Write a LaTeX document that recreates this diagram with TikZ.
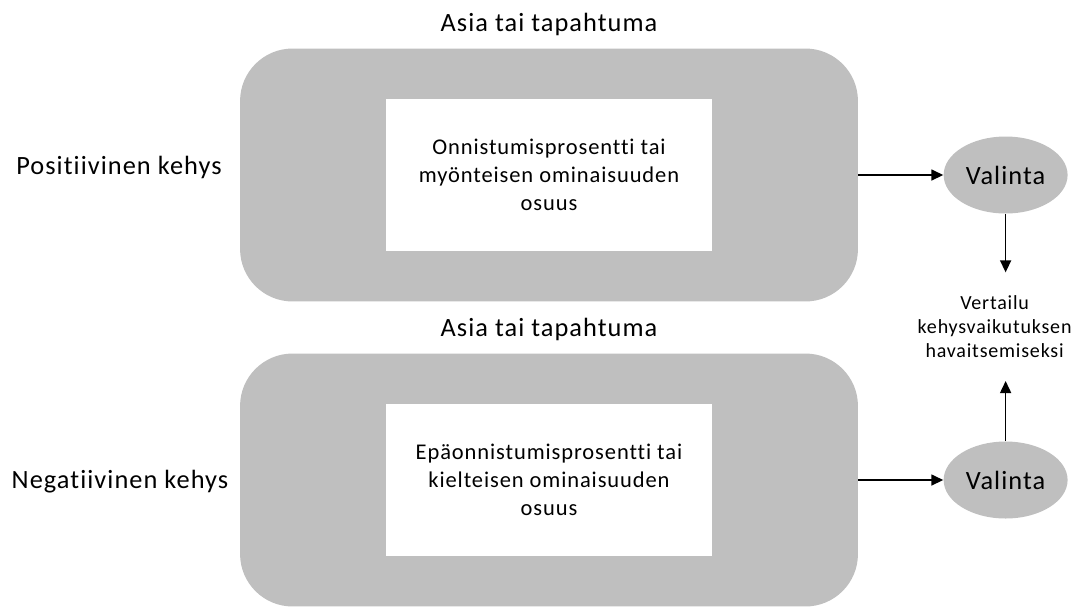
\documentclass[tikz,border=0pt]{standalone}
\usepackage{fontspec}
\setmainfont{Carlito}[LetterSpace=4,Ligatures=NoCommon]
\usetikzlibrary{positioning,shapes.geometric,arrows.meta}
\definecolor{boxgray}{RGB}{191,191,191}

\begin{document}
\begin{tikzpicture}[x=0.02cm,y=-0.02cm,
  frame/.style={fill=boxgray,rounded corners=1.05cm,minimum width=12.36cm,minimum height=5.06cm},
  inbox/.style={fill=white,minimum width=6.52cm,minimum height=3.04cm,align=center,font=\fontsize{12.8}{16}\selectfont},
  choice/.style={ellipse,fill=boxgray,minimum width=2.48cm,minimum height=1.54cm,inner sep=0pt,font=\fontsize{15}{18}\selectfont},
  sidetext/.style={inner sep=0pt,font=\fontsize{15}{18}\selectfont},
  arr/.style={-{Triangle[length=2.4mm,width=2.2mm]},line width=0.9pt}
]
\useasboundingbox (0,0) rectangle (1077,606);

\node[frame](top) at (549,175){};
\node[frame](bot) at (549,480){};
\node[inbox](topin) at (top){Onnistumisprosentti tai\\myönteisen ominaisuuden\\osuus};
\node[inbox](botin) at (bot){Epäonnistumisprosentti tai\\kielteisen ominaisuuden\\osuus};
\node[sidetext, above=0.24cm of top](tophead){Asia tai tapahtuma};
\node[sidetext, above=0.24cm of bot](bothead){Asia tai tapahtuma};
\node[sidetext](pos) at (119,167){Positiivinen kehys};
\node[sidetext](neg) at (120,482){Negatiivinen kehys};

\node[choice, right=1.7cm of top](vtop){Valinta};
\node[choice, right=1.7cm of bot](vbot){Valinta};
\node[align=center, minimum height=2.16cm, inner sep=0pt, font=\fontsize{11.4}{13.6}\selectfont,
  below=1.17cm of vtop, xshift=-0.22cm](cmp){Vertailu\\kehysvaikutuksen\\havaitsemiseksi};

\path (top) edge[arr] (vtop);
\path (bot) edge[arr] (vbot);
\path (vtop) edge[arr] (vtop |- cmp.north);
\path (vbot) edge[arr] (vbot |- cmp.south);
\end{tikzpicture}
\end{document}
